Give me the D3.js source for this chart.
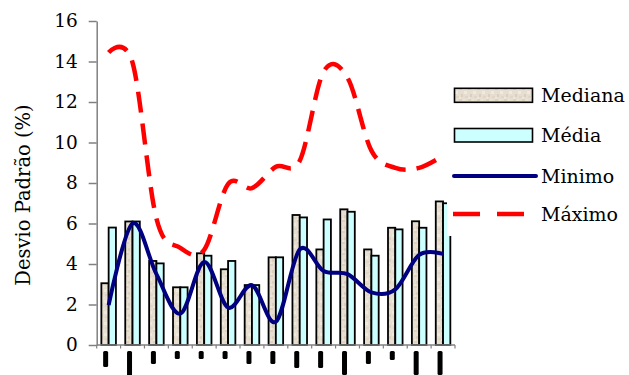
<!DOCTYPE html>
<html>
<head>
<meta charset="utf-8">
<script src="https://cdn.jsdelivr.net/npm/d3@7"></script>
<style>
  body { margin: 0; background: #fff; }
  text { font-family: "DejaVu Serif", "Liberation Serif", serif; fill: #000; }
</style>
</head>
<body>
<svg id="chart" width="629" height="375"></svg>
<script>
// Categories (15 periods) and the four series of standard deviation (%)
const categories = ["P01", "P02", "P03", "P04", "P05", "P06", "P07", "P08",
                    "P09", "P10", "P11", "P12", "P13", "P14", "P15"];
const mediana = [3.05, 6.10, 4.15, 2.85, 4.53, 3.74, 2.96, 4.33, 6.42, 4.72, 6.70, 4.72, 5.79, 6.11, 7.09];
const media   = [5.80, 6.10, 4.03, 2.85, 4.41, 4.15, 2.96, 4.33, 6.30, 6.20, 6.58, 4.41, 5.71, 5.79, 7.00];
const minimo  = [1.97, 6.00, 3.50, 1.55, 4.10, 1.85, 2.95, 1.15, 4.72, 3.65, 3.50, 2.60, 2.75, 4.45, 4.50];
const maximo  = [14.45, 13.95, 6.25, 4.80, 4.70, 7.95, 7.75, 8.80, 9.10, 13.50, 13.20, 9.60, 8.75, 8.75, 9.35];
const yTicks  = [0, 2, 4, 6, 8, 10, 12, 14, 16];
const yTitle  = "Desvio Padrão (%)";
const legendLabels = ["Mediana", "Média", "Minimo", "Máximo"];
// lengths (px) of the rotated category labels under the axis
const labelLen = [16, 25, 13, 8, 8, 8, 13, 13, 17, 17, 24, 13, 9, 24, 24];

const svg = d3.select("#chart");
svg.append("rect").attr("width", 629).attr("height", 375).attr("fill", "#fff");

// Speckled beige texture for the median bars
const defs = svg.append("defs");
const pat = defs.append("pattern").attr("id", "beige")
  .attr("patternUnits", "userSpaceOnUse").attr("width", 9).attr("height", 11);
pat.append("rect").attr("width", 9).attr("height", 11).attr("fill", "#E6DED0");
[[0,0,3,2,"#DDD2C0"],[5,3,3,3,"#EFE9DE"],[2,6,2,3,"#DCD0BD"],[6,8,3,2,"#E0D6C5"],[0,9,2,2,"#EDE6DA"],[4,0,2,2,"#EAE3D6"]]
  .forEach(([x, y, w, h, c]) => pat.append("rect").attr("x", x).attr("y", y)
    .attr("width", w).attr("height", h).attr("fill", c));

const x = d3.scaleBand().domain(categories).range([96.7, 455]);
const y = d3.scaleLinear().domain([0, 16]).range([345, 21]);
const bw = x.bandwidth();
const barW = bw * 0.305;
const pairX = c => x(c) + (bw - 2 * barW) / 2;
const cx = i => x(categories[i]) + bw / 2;

// Bars
const g = svg.append("g");
g.selectAll(".med").data(mediana).join("rect")
  .attr("x", (d, i) => pairX(categories[i]))
  .attr("y", d => y(d)).attr("width", barW).attr("height", d => y(0) - y(d))
  .attr("fill", "url(#beige)").attr("stroke", "#000").attr("stroke-width", 1.8);
g.selectAll(".avg").data(media).join("rect")
  .attr("x", (d, i) => pairX(categories[i]) + barW)
  .attr("y", d => y(d)).attr("width", barW).attr("height", d => y(0) - y(d))
  .attr("fill", "#CCFFFF").attr("stroke", "#000").attr("stroke-width", 1.8);

const line = d3.line().x((d, i) => cx(i)).y(d => y(d)).curve(d3.curveCardinal.tension(0));

svg.append("path").datum(maximo).attr("d", line)
  .attr("fill", "none").attr("stroke", "#FF0000").attr("stroke-width", 4.5)
  .attr("stroke-dasharray", "21,11");
svg.append("path").datum(minimo).attr("d", line)
  .attr("fill", "none").attr("stroke", "#000080").attr("stroke-width", 4)
  .attr("stroke-linejoin", "round");

// Legend box
svg.append("rect").attr("x", 447).attr("y", 60).attr("width", 182).attr("height", 176).attr("fill", "#fff");
const lg = svg.append("g");
const rowY = [95.3, 135, 176, 214];
lg.append("rect").attr("x", 454.5).attr("y", rowY[0] - 7).attr("width", 78).attr("height", 14)
  .attr("fill", "url(#beige)").attr("stroke", "#000").attr("stroke-width", 1.6);
lg.append("rect").attr("x", 454.5).attr("y", rowY[1] - 6.5).attr("width", 78).attr("height", 13.5)
  .attr("fill", "#CCFFFF").attr("stroke", "#000").attr("stroke-width", 1.6);
lg.append("line").attr("x1", 454).attr("x2", 536).attr("y1", rowY[2]).attr("y2", rowY[2])
  .attr("stroke", "#000080").attr("stroke-width", 4).attr("stroke-linecap", "round");
lg.append("line").attr("x1", 453).attr("x2", 525).attr("y1", rowY[3]).attr("y2", rowY[3])
  .attr("stroke", "#FF0000").attr("stroke-width", 4.5).attr("stroke-dasharray", "27,17");
lg.selectAll("text").data(legendLabels).join("text")
  .attr("x", 541).attr("y", (d, i) => rowY[i] + 6.5)
  .attr("font-size", 19).text(d => d);

// Y axis
const yAxis = svg.append("g").attr("transform", "translate(96.7,0)")
  .call(d3.axisLeft(y).tickValues(yTicks).tickSize(8).tickSizeOuter(0).tickPadding(11));
yAxis.select(".domain").attr("stroke", "#808080").attr("stroke-width", 1.5);
yAxis.selectAll(".tick line").attr("stroke", "#808080").attr("stroke-width", 1.5);
yAxis.selectAll(".tick text").attr("font-family", "DejaVu Serif").attr("font-size", 18.5).attr("fill", "#000");

// X axis with ticks at category boundaries
svg.append("line").attr("x1", 96.7).attr("x2", 455).attr("y1", y(0)).attr("y2", y(0))
  .attr("stroke", "#808080").attr("stroke-width", 1.5);
svg.selectAll(".xb").data(categories.map(c => x(c)).concat([x.range()[1]])).join("line")
  .attr("x1", d => d).attr("x2", d => d).attr("y1", y(0)).attr("y2", y(0) + 3.5)
  .attr("stroke", "#808080").attr("stroke-width", 1.2);

// Rotated category labels (rendered as dark marks)
svg.selectAll(".lab").data(labelLen).join("rect")
  .attr("x", (d, i) => cx(i) - 5.5).attr("y", 351).attr("width", 5).attr("height", d => d)
  .attr("rx", 1.5).attr("fill", "#000");

// Y title
svg.append("text").attr("transform", "translate(30,195) rotate(-90)")
  .attr("text-anchor", "middle").attr("font-size", 19.5).text(yTitle);
</script>
</body>
</html>
